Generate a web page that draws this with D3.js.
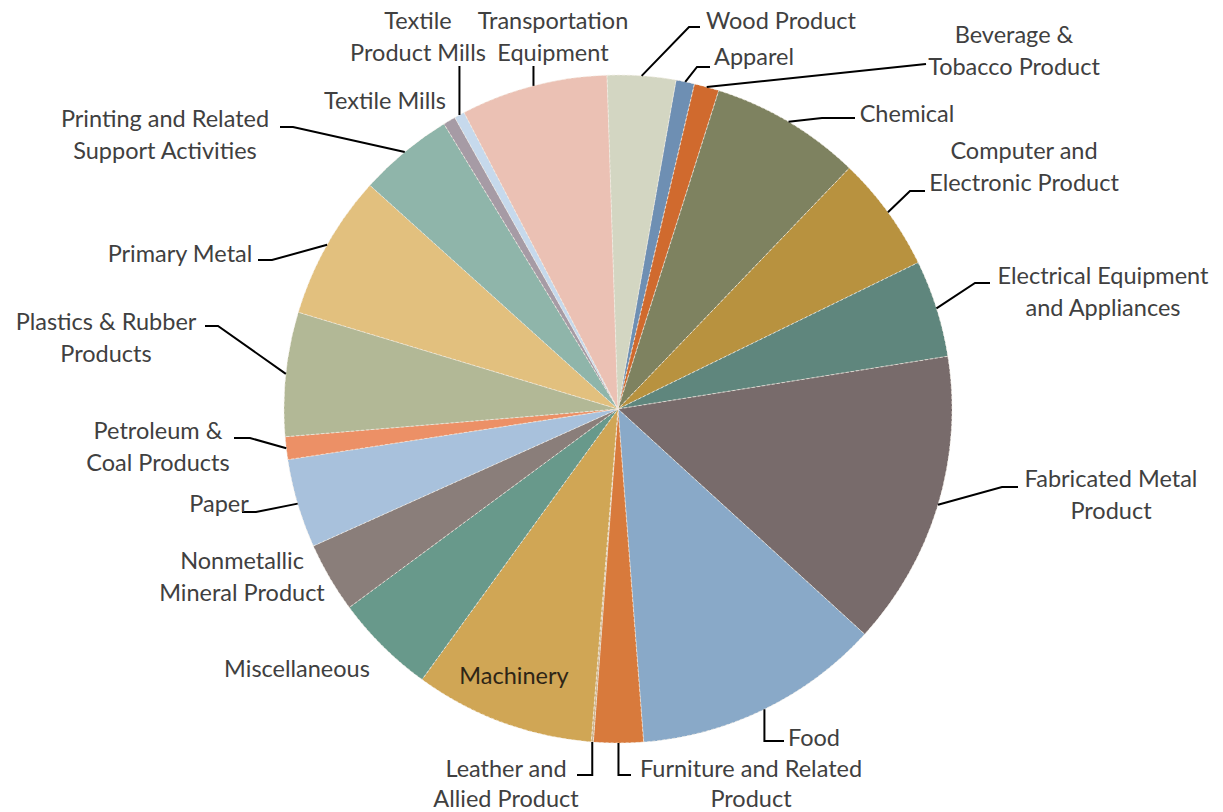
<!DOCTYPE html>
<html>
<head>
<meta charset="utf-8">
<script src="https://cdn.jsdelivr.net/npm/d3@7"></script>
<style>
  html, body { margin: 0; padding: 0; background: #ffffff; }
  svg { display: block; }
  text { font-family: Lato, "Open Sans", sans-serif; }
</style>
</head>
<body>
<svg id="chart" width="1223" height="812"></svg>
<script>
// ---- data (share of manufacturing, %) ----
const categories = [
  "Apparel", "Beverage & Tobacco Product", "Chemical", "Computer and Electronic Product",
  "Electrical Equipment and Appliances", "Fabricated Metal Product", "Food",
  "Furniture and Related Product", "Leather and Allied Product", "Machinery",
  "Miscellaneous", "Nonmetallic Mineral Product", "Paper", "Petroleum & Coal Products",
  "Plastics & Rubber Products", "Primary Metal", "Printing and Related Support Activities",
  "Textile Mills", "Textile Product Mills", "Transportation Equipment", "Wood Product"
];
const values = [0.9, 1.2, 7.3, 5.6, 4.7, 14.3, 12.0, 2.4, 0.1, 8.7, 4.9, 3.4, 4.3, 1.1, 6.0, 7.0, 4.6, 0.6, 0.5, 7.1, 3.3];
const labelLines = [
  ["Apparel"], ["Beverage &", "Tobacco Product"], ["Chemical"], ["Computer and", "Electronic Product"],
  ["Electrical Equipment", "and Appliances"], ["Fabricated Metal", "Product"], ["Food"],
  ["Furniture and Related", "Product"], ["Leather and", "Allied Product"], ["Machinery"],
  ["Miscellaneous"], ["Nonmetallic", "Mineral Product"], ["Paper"], ["Petroleum &", "Coal Products"],
  ["Plastics & Rubber", "Products"], ["Primary Metal"], ["Printing and Related", "Support Activities"],
  ["Textile Mills"], ["Textile", "Product Mills"], ["Transportation", "Equipment"], ["Wood Product"]
];
const colors = [
  "#6e8fb3", "#d06a2e", "#7e8260", "#b8923f", "#5f867d", "#786b6b", "#89a9c8",
  "#d87a3c", "#cbb08a", "#d0a655", "#68998b", "#8a7e7a", "#a8c1dc", "#ec9066",
  "#b2b896", "#e2c07e", "#8fb5aa", "#a69ba5", "#c6d9ec", "#ebc1b4", "#d3d6c2"
];

// ---- layout (positions only) ----
const cx = 618, cy = 409, R = 334;
const startDeg = 10;
// label centre x, first line centre y, line step, leader: type, start point, elbow x
const layout = [
  {x: 754, y: 56, leader: {type: "h", sx: 710, sy: 67, ex: 697}},
  {x: 1014, y: 34, leader: {type: "d", sx: 926, sy: 64}},
  {x: 907, y: 113, leader: {type: "h", sx: 855, sy: 118, ex: 822}},
  {x: 1024, y: 150, leader: {type: "h", sx: 925, sy: 191, ex: 910}},
  {x: 1103, y: 275, leader: {type: "h", sx: 990, sy: 283, ex: 975}},
  {x: 1111, y: 478, leader: {type: "h", sx: 1018, sy: 487, ex: 1002}},
  {x: 814, y: 737, leader: {type: "v", sx: 784, sy: 741}},
  {x: 751, y: 768, step: 30, leader: {type: "v", sx: 631, sy: 775}},
  {x: 506, y: 768, step: 30, leader: {type: "v", sx: 577, sy: 775}},
  {x: 514, y: 675, inside: true},
  {x: 297, y: 668},
  {x: 242, y: 560},
  {x: 219, y: 503, leader: {type: "h", sx: 242, sy: 512, ex: 256}},
  {x: 158, y: 430, leader: {type: "h", sx: 234, sy: 438, ex: 250}},
  {x: 106, y: 321, leader: {type: "h", sx: 205, sy: 326, ex: 218}},
  {x: 180, y: 253, leader: {type: "h", sx: 258, sy: 260, ex: 272}},
  {x: 165, y: 118, leader: {type: "h", sx: 280, sy: 127, ex: 293}},
  {x: 385, y: 100},
  {x: 418, y: 20, leader: {type: "top", sy: 66}},
  {x: 553, y: 20, leader: {type: "top", sy: 66}},
  {x: 781, y: 20, leader: {type: "h", sx: 700, sy: 27, ex: 689}}
];
const lineH = 32.5;
const fontSize = 23.5;

const svg = d3.select("#chart");
const data = categories.map((c, i) => ({name: c, value: values[i], color: colors[i], lines: labelLines[i], lay: layout[i]}));

const pie = d3.pie().sort(null).value(d => d.value)
  .startAngle(startDeg * Math.PI / 180)
  .endAngle(startDeg * Math.PI / 180 + 2 * Math.PI);
const arcs = pie(data);
const arc = d3.arc().innerRadius(0).outerRadius(R);

const g = svg.append("g").attr("transform", `translate(${cx},${cy})`);
g.selectAll("path.slice").data(arcs).join("path")
  .attr("class", "slice")
  .attr("d", arc)
  .attr("fill", d => d.data.color)
  .attr("stroke", "#f4efe6")
  .attr("stroke-opacity", 0.75)
  .attr("stroke-width", 0.9)
  .attr("stroke-dasharray", "3,2");

// leaders
const edgePoint = a => {
  const m = (a.startAngle + a.endAngle) / 2;
  return [cx + R * Math.sin(m), cy - R * Math.cos(m)];
};
const leaders = [];
arcs.forEach(a => {
  const L = a.data.lay.leader;
  if (!L) return;
  const [px, py] = edgePoint(a);
  let pts;
  if (L.type === "h") pts = [[L.sx, L.sy], [L.ex, L.sy], [px, py]];
  else if (L.type === "d") pts = [[L.sx, L.sy], [px, py]];
  else if (L.type === "v") pts = [[L.sx, L.sy], [px, L.sy], [px, py]];
  else if (L.type === "top") pts = [[px, L.sy], [px, py]];
  leaders.push(pts);
});
svg.append("g").selectAll("path").data(leaders).join("path")
  .attr("d", d3.line())
  .attr("fill", "none")
  .attr("stroke", "#000")
  .attr("stroke-width", 2);

// labels
const lab = svg.append("g");
data.forEach(d => {
  const t = lab.append("text")
    .attr("text-anchor", "middle")
    .attr("font-size", fontSize)
    .attr("fill", d.lay.inside ? "#2e2516" : "#404040");
  const step = d.lay.step || lineH;
  d.lines.forEach((ln, j) => {
    t.append("tspan").attr("x", d.lay.x).attr("y", d.lay.y + j * step + 8.5).text(ln);
  });
});
</script>
</body>
</html>
